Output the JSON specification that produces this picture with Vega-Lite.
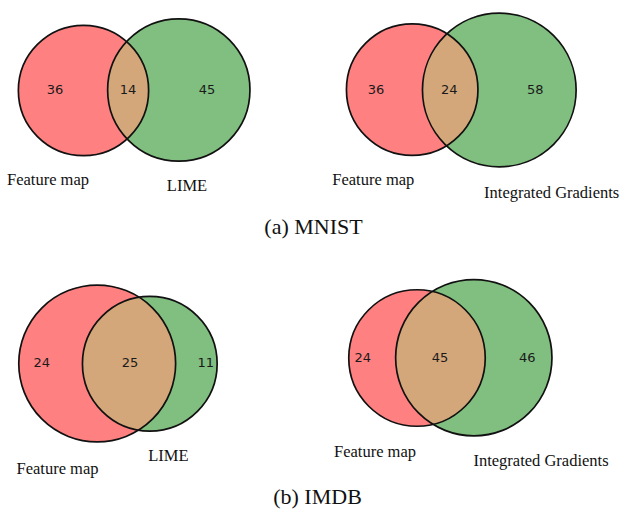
{
  "$schema": "https://vega.github.io/schema/vega-lite/v6.json",
  "width": 620,
  "height": 510,
  "padding": 0,
  "autosize": {"type": "fit", "contains": "padding"},
  "background": "white",
  "config": {"view": {"stroke": null}},
  "datasets": {
    "circles": [
      {"panel": "MNIST-LIME", "set": "Feature map", "role": "A", "cx": 83.5, "cy": 90.5, "r": 73.5},
      {"panel": "MNIST-LIME", "set": "LIME", "role": "B", "cx": 178.8, "cy": 90, "r": 80.3},
      {"panel": "MNIST-IG", "set": "Feature map", "role": "A", "cx": 412.2, "cy": 89.7, "r": 74.2},
      {"panel": "MNIST-IG", "set": "Integrated Gradients", "role": "B", "cx": 499.3, "cy": 90, "r": 86.7},
      {"panel": "IMDB-LIME", "set": "Feature map", "role": "A", "cx": 97.2, "cy": 363.5, "r": 88.5},
      {"panel": "IMDB-LIME", "set": "LIME", "role": "B", "cx": 149.8, "cy": 363.8, "r": 76},
      {"panel": "IMDB-IG", "set": "Feature map", "role": "A", "cx": 417, "cy": 358, "r": 77},
      {"panel": "IMDB-IG", "set": "Integrated Gradients", "role": "B", "cx": 473.8, "cy": 357.7, "r": 88.2}
    ],
    "regions": [
      {"panel": "MNIST-LIME", "region": "Feature map only", "count": 36, "x": 55, "y": 90},
      {"panel": "MNIST-LIME", "region": "both", "count": 14, "x": 128, "y": 90},
      {"panel": "MNIST-LIME", "region": "LIME only", "count": 45, "x": 207, "y": 90},
      {"panel": "MNIST-IG", "region": "Feature map only", "count": 36, "x": 376, "y": 90},
      {"panel": "MNIST-IG", "region": "both", "count": 24, "x": 449.3, "y": 90},
      {"panel": "MNIST-IG", "region": "Integrated Gradients only", "count": 58, "x": 535.3, "y": 90},
      {"panel": "IMDB-LIME", "region": "Feature map only", "count": 24, "x": 41.7, "y": 363.3},
      {"panel": "IMDB-LIME", "region": "both", "count": 25, "x": 130, "y": 363.3},
      {"panel": "IMDB-LIME", "region": "LIME only", "count": 11, "x": 205.7, "y": 363.3},
      {"panel": "IMDB-IG", "region": "Feature map only", "count": 24, "x": 362.7, "y": 357.7},
      {"panel": "IMDB-IG", "region": "both", "count": 45, "x": 440, "y": 357.7},
      {"panel": "IMDB-IG", "region": "Integrated Gradients only", "count": 46, "x": 527.3, "y": 357.7}
    ],
    "labels": [
      {"text": "Feature map", "x": 48, "y": 180},
      {"text": "LIME", "x": 187, "y": 186},
      {"text": "Feature map", "x": 373.3, "y": 180},
      {"text": "Integrated Gradients", "x": 551.7, "y": 192.7},
      {"text": "Feature map", "x": 57.5, "y": 468.7},
      {"text": "LIME", "x": 168.3, "y": 455.7},
      {"text": "Feature map", "x": 375, "y": 451.7},
      {"text": "Integrated Gradients", "x": 541, "y": 460.7}
    ],
    "captions": [
      {"text": "(a) MNIST", "x": 313.5, "y": 226.7},
      {"text": "(b) IMDB", "x": 317.5, "y": 496.7}
    ]
  },
  "layer": [
    {
      "data": {"name": "circles"},
      "transform": [{"filter": "datum.role === 'A'"}],
      "mark": {"type": "point", "shape": "circle", "filled": true, "color": "#FF1069", "opacity": 1, "strokeWidth": 0},
      "encoding": {
        "x": {"field": "cx", "type": "quantitative", "scale": {"domain": [0, 620], "nice": false, "zero": false}, "axis": null},
        "y": {"field": "cy", "type": "quantitative", "scale": {"domain": [510, 0], "nice": false, "zero": false}, "axis": null},
        "size": {"field": "r", "type": "quantitative", "scale": {"type": "pow", "exponent": 2, "domain": [0, 100], "range": [0, 31415.93]}, "legend": null}
      }
    },
    {
      "data": {"name": "circles"},
      "transform": [{"filter": "datum.role === 'B'"}],
      "mark": {"type": "point", "shape": "circle", "filled": true, "color": "#56AA56", "opacity": 0.75, "strokeWidth": 0},
      "encoding": {
        "x": {"field": "cx", "type": "quantitative"},
        "y": {"field": "cy", "type": "quantitative"},
        "size": {"field": "r", "type": "quantitative"}
      }
    },
    {
      "data": {"name": "circles"},
      "transform": [{"filter": "datum.role === 'A'"}],
      "mark": {"type": "point", "shape": "circle", "filled": true, "color": "#FFB98C", "opacity": 0.6614, "strokeWidth": 0},
      "encoding": {
        "x": {"field": "cx", "type": "quantitative"},
        "y": {"field": "cy", "type": "quantitative"},
        "size": {"field": "r", "type": "quantitative"}
      }
    },
    {
      "data": {"name": "circles"},
      "mark": {"type": "point", "shape": "circle", "filled": false, "stroke": "#111111", "strokeWidth": 1.7, "opacity": 1},
      "encoding": {
        "x": {"field": "cx", "type": "quantitative"},
        "y": {"field": "cy", "type": "quantitative"},
        "size": {"field": "r", "type": "quantitative"}
      }
    },
    {
      "data": {"name": "regions"},
      "mark": {"type": "text", "font": "DejaVu Sans", "fontSize": 13, "color": "#1a1a1a", "align": "center", "baseline": "middle"},
      "encoding": {
        "x": {"field": "x", "type": "quantitative"},
        "y": {"field": "y", "type": "quantitative"},
        "text": {"field": "count", "type": "quantitative"}
      }
    },
    {
      "data": {"name": "labels"},
      "mark": {"type": "text", "font": "Liberation Serif", "fontSize": 16.5, "color": "#111111", "align": "center", "baseline": "middle"},
      "encoding": {
        "x": {"field": "x", "type": "quantitative"},
        "y": {"field": "y", "type": "quantitative"},
        "text": {"field": "text", "type": "nominal"}
      }
    },
    {
      "data": {"name": "captions"},
      "mark": {"type": "text", "font": "Liberation Serif", "fontSize": 22, "color": "#111111", "align": "center", "baseline": "middle"},
      "encoding": {
        "x": {"field": "x", "type": "quantitative"},
        "y": {"field": "y", "type": "quantitative"},
        "text": {"field": "text", "type": "nominal"}
      }
    }
  ]
}
